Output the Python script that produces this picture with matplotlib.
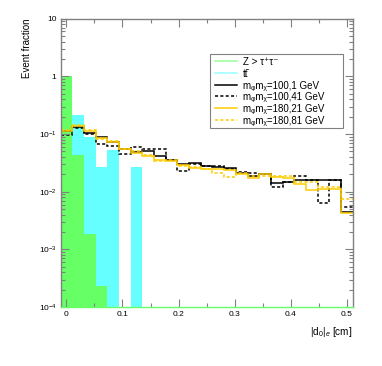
#!/usr/bin/env python3
import numpy as np
import matplotlib
matplotlib.use('Agg')
import matplotlib.pyplot as plt
from matplotlib.patches import Rectangle
from matplotlib.ticker import FixedLocator, FixedFormatter, MultipleLocator, LogLocator, NullFormatter

plt.rcParams['font.family'] = ['Liberation Sans', 'DejaVu Sans']
plt.rcParams['mathtext.fontset'] = 'custom'
plt.rcParams['mathtext.rm'] = 'Liberation Sans'
plt.rcParams['mathtext.it'] = 'Liberation Sans:italic'

# 25 bins from -0.01 to 0.51
edges = np.linspace(-0.01, 0.51, 26)

ztautau = [1.0, 0.0435, 0.00185, 0.00023, 0, 0, 0, 0, 0, 0, 0, 0, 0,
           0, 0, 0, 0, 0, 0, 0, 0, 0, 0, 0, 0]
ttbar = [0.58, 0.218, 0.09, 0.0273, 0.0538, 0, 0.0273, 0, 0, 0, 0, 0, 0,
         0, 0, 0, 0, 0, 0, 0, 0, 0, 0, 0, 0]
sig_100_1 = [0.114, 0.13, 0.105, 0.088, 0.072, 0.056, 0.048, 0.050, 0.042,
             0.0356, 0.030, 0.031, 0.0277, 0.027, 0.026, 0.021, 0.019, 0.020,
             0.0142, 0.0145, 0.016, 0.016, 0.016, 0.016, 0.0045]
sig_100_41 = [0.098, 0.125, 0.10, 0.068, 0.061, 0.045, 0.059, 0.055, 0.054,
              0.036, 0.0233, 0.030, 0.028, 0.028, 0.025, 0.022, 0.021, 0.020,
              0.0123, 0.015, 0.0188, 0.016, 0.0063, 0.016, 0.0055]
sig_180_21 = [0.115, 0.14, 0.115, 0.085, 0.074, 0.056, 0.046, 0.041, 0.036,
              0.034, 0.029, 0.026, 0.0245, 0.0245, 0.024, 0.020, 0.0176, 0.020,
              0.0178, 0.017, 0.0136, 0.0107, 0.011, 0.011, 0.0042]
sig_180_81 = [0.118, 0.145, 0.118, 0.082, 0.076, 0.054, 0.05, 0.043, 0.034,
              0.035, 0.028, 0.027, 0.025, 0.021, 0.0183, 0.021, 0.019, 0.019,
              0.019, 0.019, 0.0145, 0.0147, 0.012, 0.012, 0.0075]

yticks = [1e-4, 1e-3, 1e-2, 1e-1, 1, 10]
ylabels = ['10$^{-4}$', '10$^{-3}$', '10$^{-2}$', '10$^{-1}$', '1', '10']
xticks = [0, 0.1, 0.2, 0.3, 0.4, 0.5]
xlabels = ['0', '0.1', '0.2', '0.3', '0.4', '0.5']

fig = plt.figure(figsize=(3.82, 3.66), dpi=100)
ax = fig.add_axes([0.159, 0.161, 0.764, 0.788])

w = edges[1] - edges[0]
ax.bar(edges[:-1], ttbar, width=w, align='edge', color='#66ffff', linewidth=0)
ax.bar(edges[:-1], ztautau, width=w, align='edge', color='#66ff66', linewidth=0)

dash = (0, (2, 1.5))
ax.stairs(sig_100_1, edges, baseline=None, color='black', lw=1.1)
ax.stairs(sig_100_41, edges, baseline=None, color='black', lw=1.1, ls=dash)
ax.stairs(sig_180_21, edges, baseline=None, color='#ffcc00', lw=1.1)
ax.stairs(sig_180_81, edges, baseline=None, color='#ffcc00', lw=1.1, ls=dash)

ax.set_yscale('log', nonpositive='clip')
ax.set_xlim(-0.01, 0.51)
ax.set_ylim(1e-4, 10)

ax.yaxis.set_major_locator(FixedLocator(yticks))
ax.yaxis.set_major_formatter(FixedFormatter(ylabels))
ax.yaxis.set_minor_locator(LogLocator(base=10, subs=np.arange(2, 10)))
ax.yaxis.set_minor_formatter(NullFormatter())
ax.xaxis.set_major_locator(FixedLocator(xticks))
ax.xaxis.set_major_formatter(FixedFormatter(xlabels))
ax.xaxis.set_minor_locator(MultipleLocator(0.05))

ax.tick_params(which='both', direction='in', top=True, right=True,
               color='#808080', labelsize=6, pad=3)
ax.tick_params(which='major', length=5.5, width=0.8)
ax.tick_params(which='minor', length=2.8, width=0.8)
for s in ax.spines.values():
    s.set_color('#808080')
    s.set_linewidth(1.0)
ax.spines['bottom'].set_color('#66ff66')

ax.set_ylabel('Event fraction', fontsize=7.0, loc='top', labelpad=5)
ax.set_xlabel('|d$_0$|$_e$ [cm]', fontsize=7.2, loc='right', labelpad=5)

# legend box drawn by hand (ROOT-style compact TLegend)
leg_colors = ['#99ff99', '#99ffff', 'black', 'black', '#ffcc00', '#ffcc00']
leg_styles = ['-', '-', '-', dash, '-', dash]
leg_labels = [
    'Z > τ⁺τ⁻',
    'tt̄',
    'mᵩmᵪ=100,1 GeV',
    'mᵩmᵪ=100,41 GeV',
    'mᵩmᵪ=180,21 GeV',
    'mᵩmᵪ=180,81 GeV',
]
ax.add_patch(Rectangle((0.5117, 0.6217), 0.4568, 0.2545, transform=ax.transAxes,
                       facecolor='white', edgecolor='#808080', lw=0.8, zorder=5))
for i, (c, st, lab) in enumerate(zip(leg_colors, leg_styles, leg_labels)):
    yy = 0.8533 - i * 0.0409
    ax.plot([0.529, 0.604], [yy, yy], transform=ax.transAxes, color=c, ls=st,
            lw=1.1, zorder=6)
    ax.text(0.6237, yy, lab, transform=ax.transAxes, fontsize=7.0,
            va='center_baseline', ha='left', zorder=6)

plt.savefig('out.png', dpi=100)
